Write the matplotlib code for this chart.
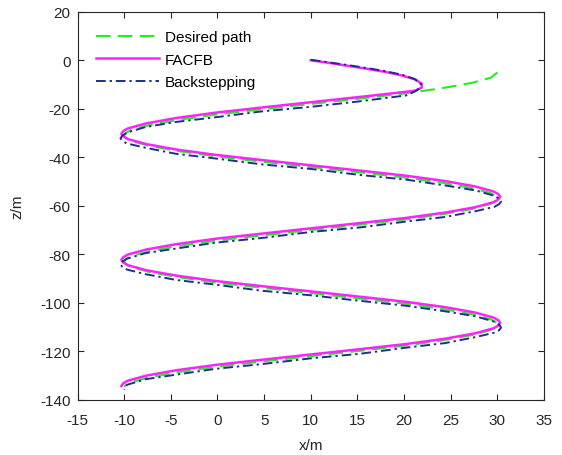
import matplotlib
matplotlib.use("Agg")
import matplotlib.pyplot as plt

plt.rcParams['font.family'] = ['Liberation Sans', 'DejaVu Sans']
plt.rcParams['font.size'] = 11
plt.rcParams['axes.unicode_minus'] = False

# desired helix path (x, z)
desired_x = [30.0, 29.3, 27.3, 24.1, 20.0, 15.2, 10.0, 4.8, 0.0, -4.1, -7.3, -9.3,
             -9.8, -10.0, -9.8,
             -9.3, -7.3, -4.1, 0.0, 4.8, 10.0, 15.2, 20.0, 24.1, 27.3, 29.3,
             29.8, 30.0, 29.8,
             29.3, 27.3, 24.1, 20.0, 15.2, 10.0, 4.8, 0.0, -4.1, -7.3, -9.3,
             -9.8, -10.0, -9.8,
             -9.3, -7.3, -4.1, 0.0, 4.8, 10.0, 15.2, 20.0, 24.1, 27.3, 29.3,
             29.8, 30.0, 29.8,
             29.3, 27.3, 24.1, 20.0, 15.2, 10.0, 4.8, 0.0, -4.1, -7.3, -9.3,
             -9.8, -10.0]
desired_z = [-5.0, -7.2, -9.3, -11.5, -13.7, -15.8, -18.0, -20.2, -22.3, -24.5, -26.7, -28.8,
             -29.9, -31.0, -32.1,
             -33.2, -35.3, -37.5, -39.7, -41.8, -44.0, -46.2, -48.3, -50.5, -52.7, -54.8,
             -55.9, -57.0, -58.1,
             -59.2, -61.3, -63.5, -65.7, -67.8, -70.0, -72.2, -74.3, -76.5, -78.7, -80.8,
             -81.9, -83.0, -84.1,
             -85.2, -87.3, -89.5, -91.7, -93.8, -96.0, -98.2, -100.3, -102.5, -104.7, -106.8,
             -107.9, -109.0, -110.1,
             -111.2, -113.3, -115.5, -117.7, -119.8, -122.0, -124.2, -126.3, -128.5, -130.7, -132.8,
             -133.8, -134.6]

# FACFB trajectory
facfb_x = [10.0, 12.0, 14.0, 16.0, 18.0, 19.8, 21.2, 21.9, 21.9, 21.2,
           20.2, 15.3, 10.0, 4.7, -0.2, -4.4, -7.6, -9.6,
           -10.1, -10.3, -10.1,
           -9.6, -7.6, -4.4, -0.2, 4.7, 10.0, 15.3, 20.2, 24.4, 27.6, 29.6,
           30.1, 30.3, 30.1,
           29.6, 27.6, 24.4, 20.2, 15.3, 10.0, 4.7, -0.2, -4.4, -7.6, -9.6,
           -10.1, -10.3, -10.1,
           -9.6, -7.6, -4.4, -0.2, 4.7, 10.0, 15.3, 20.2, 24.4, 27.6, 29.6,
           30.1, 30.3, 30.1,
           29.6, 27.6, 24.4, 20.2, 15.3, 10.0, 4.7, -0.2, -4.4, -7.6, -9.6,
           -10.1, -10.3]
facfb_z = [0.0, -1.1, -2.3, -3.5, -4.8, -6.3, -7.9, -9.7, -11.3, -12.5,
           -13.0, -15.1, -17.3, -19.5, -21.6, -23.8, -26.0, -28.1,
           -29.2, -30.3, -31.4,
           -32.5, -34.6, -36.8, -39.0, -41.1, -43.3, -45.5, -47.6, -49.8, -52.0, -54.1,
           -55.2, -56.3, -57.4,
           -58.5, -60.6, -62.8, -65.0, -67.1, -69.3, -71.5, -73.6, -75.8, -78.0, -80.1,
           -81.2, -82.3, -83.4,
           -84.5, -86.6, -88.8, -91.0, -93.1, -95.3, -97.5, -99.6, -101.8, -104.0, -106.1,
           -107.2, -108.3, -109.4,
           -110.5, -112.6, -114.8, -117.0, -119.1, -121.3, -123.5, -125.6, -127.8, -130.0, -132.1,
           -133.2, -134.3]

# Backstepping trajectory
back_x = [10.0, 12.0, 14.0, 16.0, 18.0, 19.8, 21.1, 21.8, 21.7, 21.2,
          20.2, 15.3, 10.0, 4.7, -0.2, -4.4, -7.7, -9.7,
          -10.2, -10.4, -10.2,
          -9.7, -7.7, -4.4, -0.2, 4.7, 10.0, 15.3, 20.2, 24.4, 27.7, 29.7,
          30.2, 30.4, 30.2,
          29.7, 27.7, 24.4, 20.2, 15.3, 10.0, 4.7, -0.2, -4.4, -7.7, -9.7,
          -10.2, -10.4, -10.2,
          -9.7, -7.7, -4.4, -0.2, 4.7, 10.0, 15.3, 20.2, 24.4, 27.7, 29.7,
          30.2, 30.4, 30.2,
          29.7, 27.7, 24.4, 20.2, 15.3, 10.0, 4.7, -0.2, -4.4, -7.7, -9.7,
          -10.0]
back_z = [0.2, -0.9, -2.0, -3.2, -4.5, -6.0, -7.7, -9.6, -11.4, -12.8,
          -14.5, -16.9, -19.2, -21.1, -23.5, -25.4, -27.5, -29.8,
          -31.1, -32.2, -33.3,
          -34.3, -36.1, -38.6, -40.5, -42.9, -44.8, -47.3, -49.2, -51.6, -53.7, -55.9,
          -57.1, -58.2, -59.3,
          -60.4, -62.2, -64.6, -66.5, -68.9, -70.8, -73.3, -75.2, -77.6, -79.5, -81.8,
          -83.0, -84.1, -85.2,
          -86.3, -88.2, -90.6, -92.5, -95.0, -96.9, -99.2, -101.2, -103.5, -105.6, -107.8,
          -109.1, -110.2, -111.3,
          -112.3, -114.1, -116.6, -118.5, -121.0, -122.9, -125.3, -127.2, -129.6, -131.5, -133.8,
          -135.9]

fig = plt.figure(figsize=(5.62, 4.56), dpi=100)
ax = fig.add_axes([0.138, 0.121, 0.830, 0.851])

ax.plot(desired_x, desired_z, color='#22ee22', lw=1.5, dashes=(7, 3.5), label='Desired path')
ax.plot(facfb_x, facfb_z, color='#ff22ff', lw=1.8, label='FACFB')
ax.plot(back_x, back_z, color='#1c2f8c', lw=1.4, dashes=(5, 2, 1.2, 2), label='Backstepping')

ax.set_xlim(-15, 35)
ax.set_ylim(-140, 20)
ax.set_xticks(range(-15, 36, 5))
ax.set_yticks(range(-140, 21, 20))
ax.tick_params(direction='in', top=True, right=True, length=4, colors='#262626', labelsize=11)
ax.tick_params(axis='x', pad=9.5)
ax.tick_params(axis='y', pad=5)
for s in ax.spines.values():
    s.set_color('#262626')
    s.set_linewidth(0.8)
ax.set_xlabel('x/m', color='#262626', labelpad=8)
ax.set_ylabel('z/m', color='#262626', labelpad=11)

ax.legend(loc='upper left', frameon=False, handlelength=4.1, handletextpad=0.4, fontsize=11,
          bbox_to_anchor=(0.0, 1.0), borderaxespad=0.8, labelspacing=0.55)

fig.savefig('out.png', dpi=100)
